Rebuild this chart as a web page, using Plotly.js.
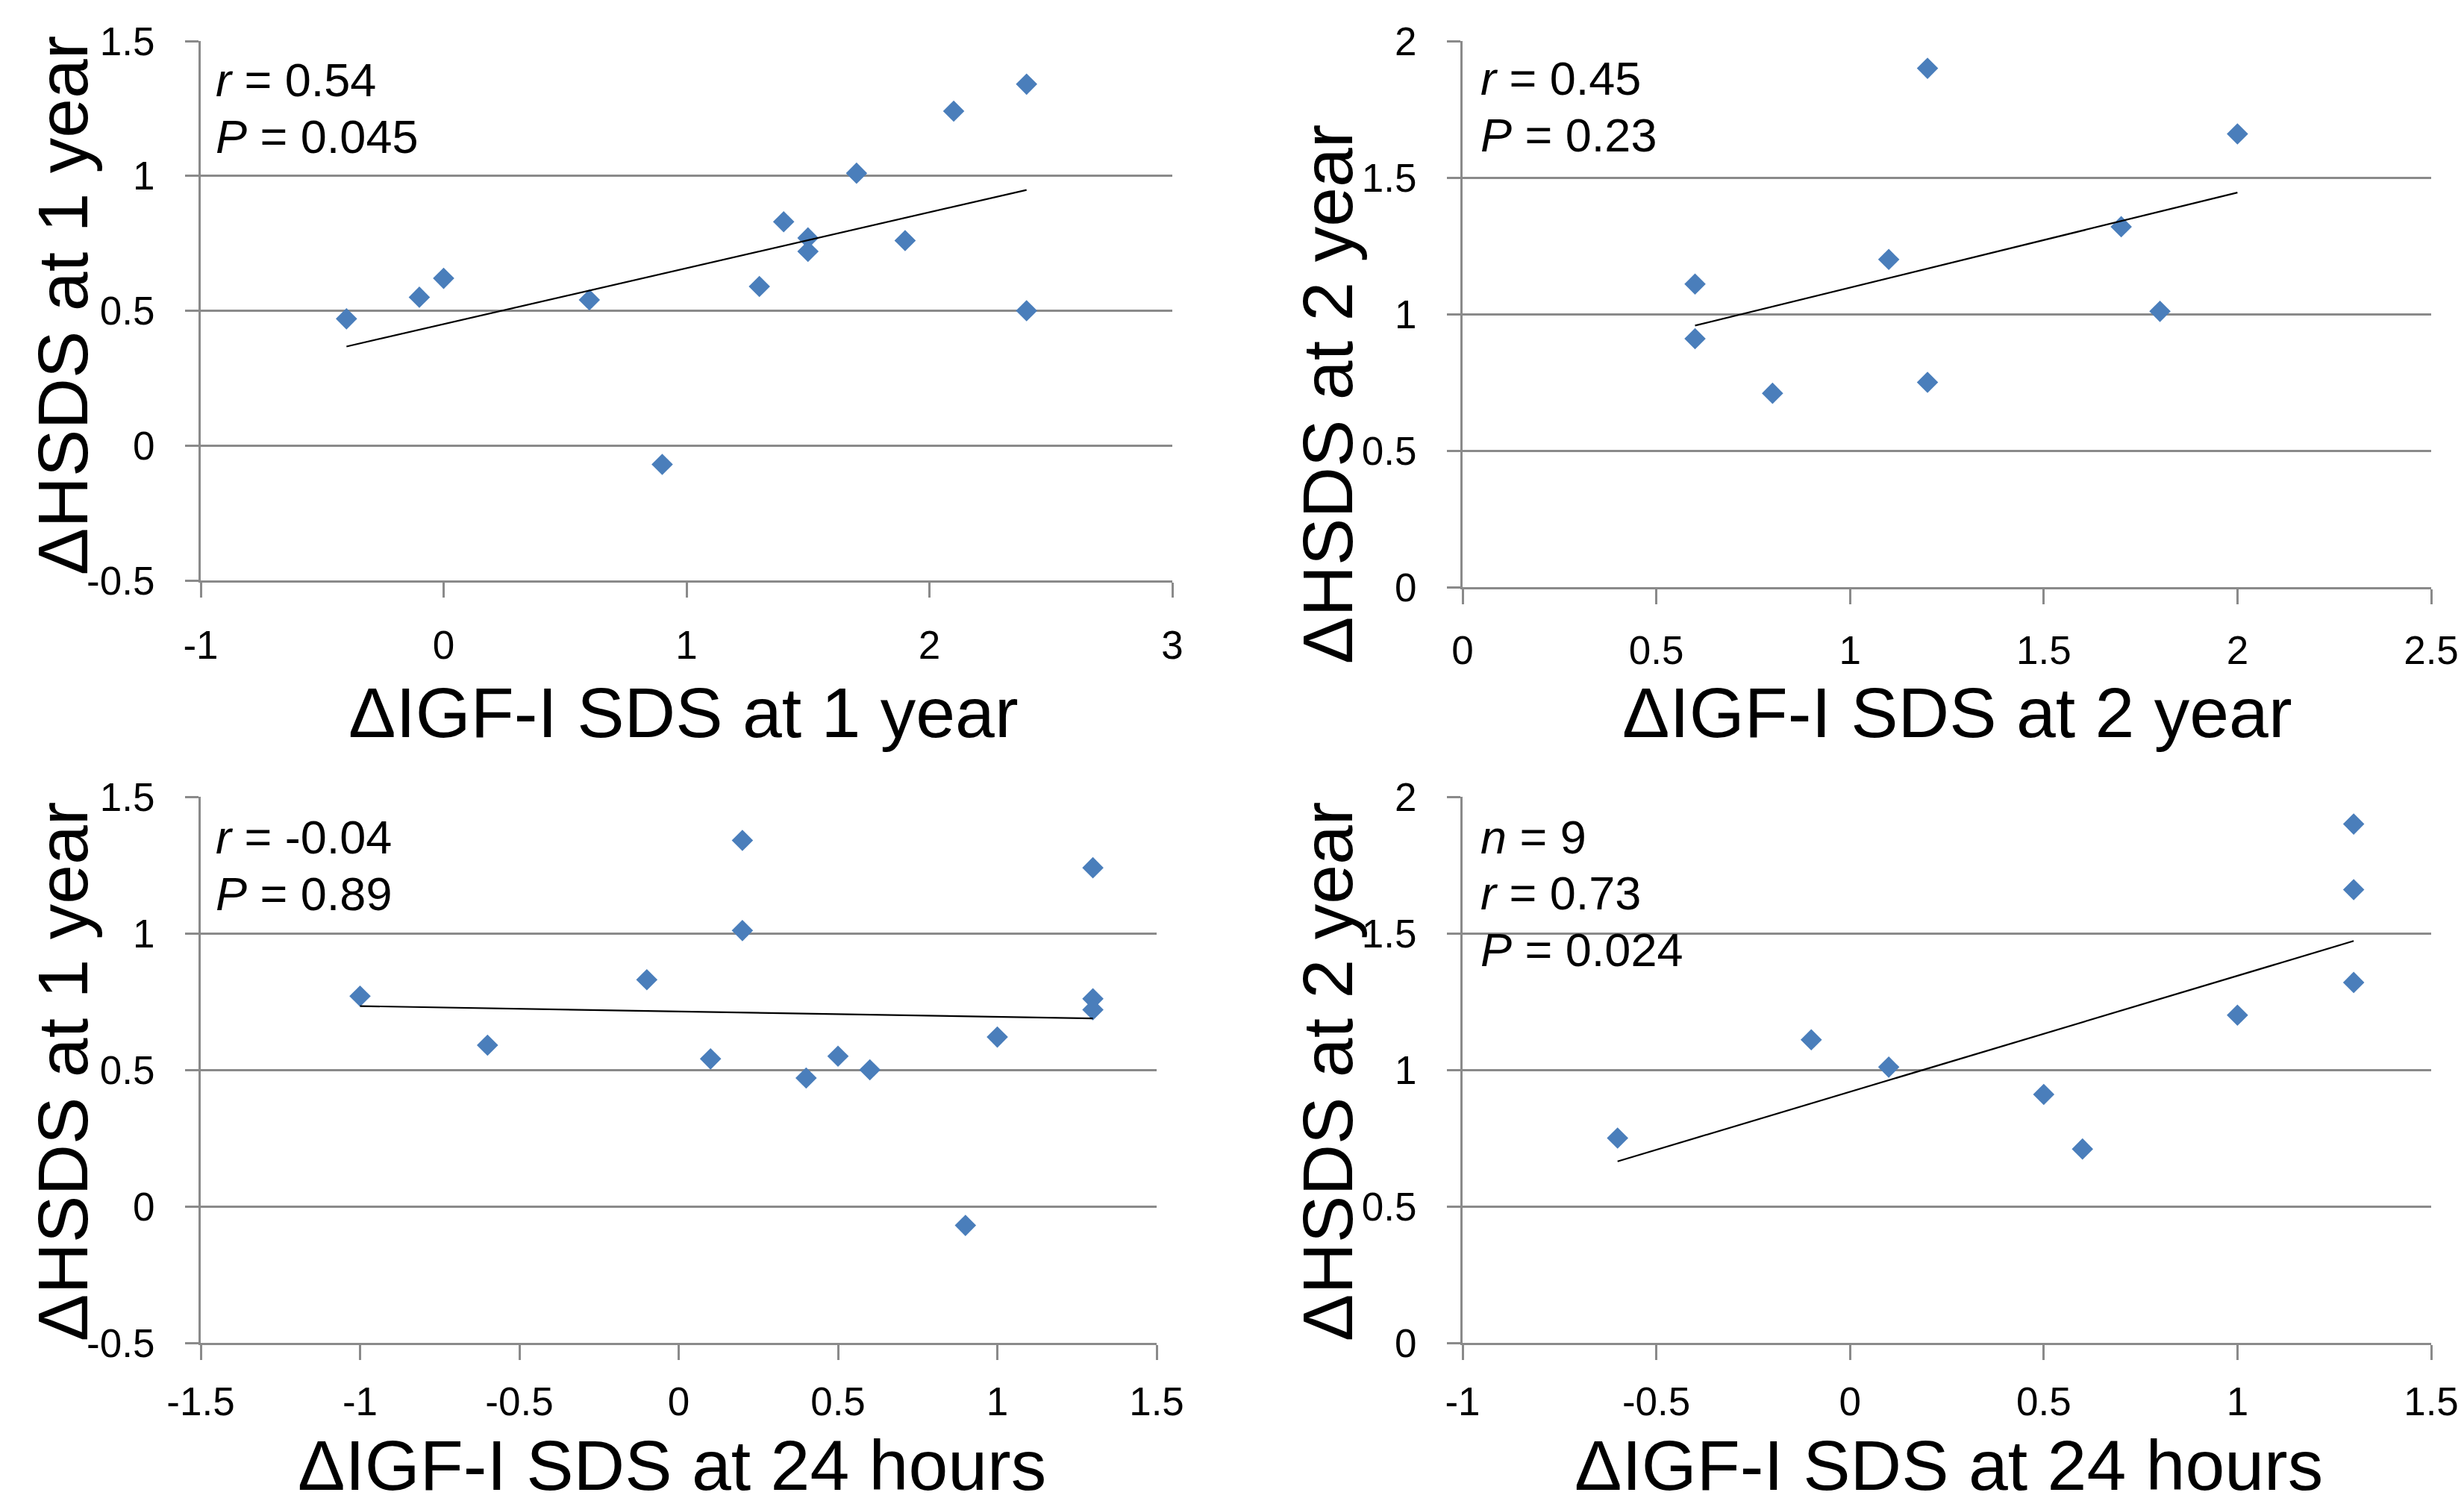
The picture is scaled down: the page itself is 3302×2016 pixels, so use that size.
<!DOCTYPE html>
<html>
<head>
<meta charset="utf-8">
<script src="https://cdn.plot.ly/plotly-3.0.1.min.js"></script>
<style>
html, body { margin: 0; padding: 0; background: #ffffff; }
#chart { width: 3302px; height: 2016px; }
</style>
</head>
<body>
<div id="chart"></div>
<script>
// ---------- Data ----------
// Panel A: ΔIGF-I SDS at 1 year vs ΔHSDS at 1 year
const igfA = [-0.4, -0.1, 0.0, 0.6, 0.9, 1.3, 1.4, 1.5, 1.5, 1.7, 1.9, 2.1, 2.4, 2.4];
const hsdsA = [0.47, 0.55, 0.62, 0.54, -0.07, 0.59, 0.83, 0.77, 0.72, 1.01, 0.76, 1.24, 1.34, 0.50];
// Panel B: ΔIGF-I SDS at 2 year vs ΔHSDS at 2 year
const igfB = [0.6, 0.6, 0.8, 1.1, 1.2, 1.2, 1.7, 1.8, 2.0];
const hsdsB = [1.11, 0.91, 0.71, 1.20, 1.90, 0.75, 1.32, 1.01, 1.66];
// Panel C: ΔIGF-I SDS at 24 hours vs ΔHSDS at 1 year
const igfC = [-1.0, -0.6, -0.1, 0.1, 0.2, 0.2, 0.4, 0.5, 0.6, 0.9, 1.0, 1.3, 1.3, 1.3];
const hsdsC = [0.77, 0.59, 0.83, 0.54, 1.34, 1.01, 0.47, 0.55, 0.50, -0.07, 0.62, 1.24, 0.76, 0.72];
// Panel D: ΔIGF-I SDS at 24 hours vs ΔHSDS at 2 year
const igfD = [-0.6, -0.1, 0.1, 0.5, 0.6, 1.0, 1.3, 1.3, 1.3];
const hsdsD = [0.75, 1.11, 1.01, 0.91, 0.71, 1.20, 1.90, 1.66, 1.32];

// Tick values
const xTicksA = [-1, 0, 1, 2, 3];
const yTicksA = [-0.5, 0, 0.5, 1, 1.5];
const xTicksB = [0, 0.5, 1, 1.5, 2, 2.5];
const yTicksB = [0, 0.5, 1, 1.5, 2];
const xTicksC = [-1.5, -1, -0.5, 0, 0.5, 1, 1.5];
const yTicksC = [-0.5, 0, 0.5, 1, 1.5];
const xTicksD = [-1, -0.5, 0, 0.5, 1, 1.5];
const yTicksD = [0, 0.5, 1, 1.5, 2];

// Axis titles
const xTitles = ['ΔIGF-I SDS at 1 year', 'ΔIGF-I SDS at 2 year', 'ΔIGF-I SDS at 24 hours', 'ΔIGF-I SDS at 24 hours'];
const yTitles = ['ΔHSDS at 1 year', 'ΔHSDS at 2 year', 'ΔHSDS at 1 year', 'ΔHSDS at 2 year'];

// Statistics text
const statsA = ['<i>r</i> = 0.54', '<i>P</i> = 0.045'];
const statsB = ['<i>r</i> = 0.45', '<i>P</i> = 0.23'];
const statsC = ['<i>r</i> = -0.04', '<i>P</i> = 0.89'];
const statsD = ['<i>n</i> = 9', '<i>r</i> = 0.73', '<i>P</i> = 0.024'];

// ---------- Styling ----------
const W = 3302, H = 2016;
const FONT = '"Liberation Sans", Arial, Helvetica, sans-serif';
const GRID = '#8a8a8a';
const MARKER = '#4a7ebb';

function px(x) { return x / W; }
function py(y) { return 1 - y / H; }

// Linear regression (least squares trendline, as in the original Excel chart)
function trend(xs, ys) {
  const n = xs.length;
  const mx = xs.reduce((a, b) => a + b, 0) / n;
  const my = ys.reduce((a, b) => a + b, 0) / n;
  let sxy = 0, sxx = 0;
  for (let i = 0; i < n; i++) { sxy += (xs[i] - mx) * (ys[i] - my); sxx += (xs[i] - mx) * (xs[i] - mx); }
  const b = sxy / sxx, a = my - b * mx;
  const x0 = Math.min(...xs), x1 = Math.max(...xs);
  return { x: [x0, x1], y: [a + b * x0, a + b * x1] };
}

const panels = [
  { xs: igfA, ys: hsdsA, xt: xTicksA, yt: yTicksA, dom: { x: [269, 1571], y: [55, 778] }, stats: statsA,
    statX: 288, statY: [107, 183], xTitle: [916, 955], yTitle: [84, 410], xStand: 18 },
  { xs: igfB, ys: hsdsB, xt: xTicksB, yt: yTicksB, dom: { x: [1960, 3258], y: [55, 787] }, stats: statsB,
    statX: 1983, statY: [105, 181], xTitle: [2623, 955], yTitle: [1779, 529], xStand: 16 },
  { xs: igfC, ys: hsdsC, xt: xTicksC, yt: yTicksC, dom: { x: [269, 1550], y: [1068, 1800] }, stats: statsC,
    statX: 288, statY: [1122, 1198], xTitle: [901, 1964], yTitle: [84, 1437], xStand: 10 },
  { xs: igfD, ys: hsdsD, xt: xTicksD, yt: yTicksD, dom: { x: [1960, 3258], y: [1068, 1800] }, stats: statsD,
    statX: 1983, statY: [1122, 1197, 1273], xTitle: [2611, 1964], yTitle: [1779, 1437], xStand: 10 }
];

const data = [];
const layout = {
  width: W, height: H,
  margin: { l: 0, r: 0, t: 0, b: 0, pad: 0 },
  paper_bgcolor: '#ffffff', plot_bgcolor: '#ffffff',
  showlegend: false,
  font: { family: FONT, color: '#000000' },
  annotations: []
};

panels.forEach((p, i) => {
  const k = i === 0 ? '' : String(i + 1);
  const xa = 'x' + k, ya = 'y' + k;
  data.push({
    type: 'scatter', mode: 'markers', x: p.xs, y: p.ys, xaxis: xa, yaxis: ya,
    marker: { symbol: 'diamond', size: 22, color: MARKER, line: { width: 0 } },
    hoverinfo: 'skip', cliponaxis: false
  });
  const t = trend(p.xs, p.ys);
  data.push({
    type: 'scatter', mode: 'lines', x: t.x, y: t.y, xaxis: xa, yaxis: ya,
    line: { color: '#000000', width: 2.2 }, hoverinfo: 'skip'
  });
  layout['xaxis' + k] = {
    domain: [px(p.dom.x[0]), px(p.dom.x[1])],
    anchor: ya,
    range: [p.xt[0], p.xt[p.xt.length - 1]],
    tickmode: 'array', tickvals: p.xt, ticktext: p.xt.map(String),
    showgrid: false, zeroline: false,
    showline: true, linecolor: GRID, linewidth: 3,
    ticks: 'outside', ticklen: 20, tickwidth: 3, tickcolor: GRID,
    ticklabelstandoff: p.xStand,
    tickfont: { family: FONT, size: 53, color: '#000000' },
    fixedrange: true
  };
  layout['yaxis' + k] = {
    domain: [py(p.dom.y[1]), py(p.dom.y[0])],
    anchor: xa,
    range: [p.yt[0], p.yt[p.yt.length - 1]],
    tickmode: 'array', tickvals: p.yt, ticktext: p.yt.map(String),
    showgrid: true, gridcolor: GRID, gridwidth: 3, zeroline: false,
    showline: true, linecolor: GRID, linewidth: 3,
    ticks: 'outside', ticklen: 18, tickwidth: 3, tickcolor: GRID,
    ticklabelstandoff: 30,
    tickfont: { family: FONT, size: 53, color: '#000000' },
    fixedrange: true
  };
  p.stats.forEach((s, j) => {
    layout.annotations.push({
      xref: 'paper', yref: 'paper', x: px(p.statX), y: py(p.statY[j]),
      xanchor: 'left', yanchor: 'middle', showarrow: false, borderpad: 0,
      text: s, font: { family: FONT, size: 63, color: '#000000' }
    });
  });
  layout.annotations.push({
    xref: 'paper', yref: 'paper', x: px(p.xTitle[0]), y: py(p.xTitle[1]),
    xanchor: 'center', yanchor: 'middle', showarrow: false, borderpad: 0,
    text: xTitles[i], font: { family: FONT, size: 95, color: '#000000' }
  });
  layout.annotations.push({
    xref: 'paper', yref: 'paper', x: px(p.yTitle[0]), y: py(p.yTitle[1]),
    xanchor: 'center', yanchor: 'middle', showarrow: false, borderpad: 0, textangle: -90,
    text: yTitles[i], font: { family: FONT, size: 95, color: '#000000' }
  });
});

Plotly.newPlot('chart', data, layout, { displayModeBar: false, staticPlot: true });
</script>
</body>
</html>
